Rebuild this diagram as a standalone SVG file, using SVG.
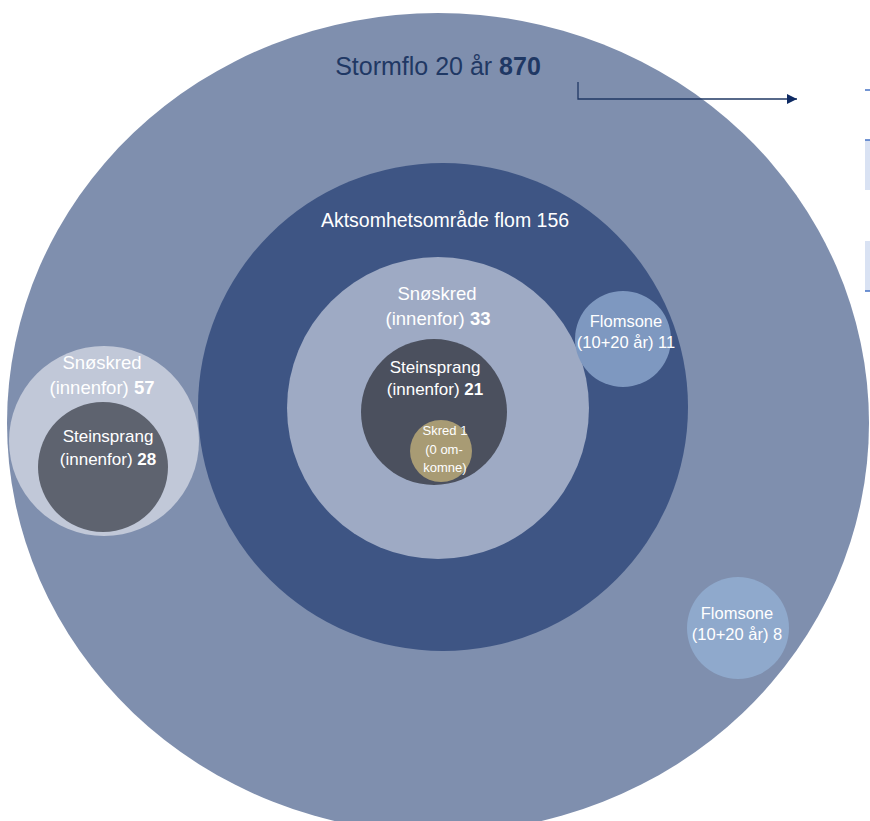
<svg xmlns="http://www.w3.org/2000/svg" width="870" height="821" viewBox="0 0 870 821">
<defs>
<style>
text{font-family:"Liberation Sans",Arial,sans-serif;text-anchor:middle;fill:#FFFFFF}
.b{font-weight:bold}
.title{fill:#1F3864;font-size:25px}
.conn{fill:none;stroke:#203864;stroke-width:1.3}
</style>
<marker id="ah" viewBox="0 0 10 10" refX="10" refY="5" markerWidth="10" markerHeight="10" markerUnits="userSpaceOnUse" orient="auto">
<path d="M0,0 L10,5 L0,10 Z" fill="#0E2A63"/>
</marker>
</defs>
<rect width="870" height="821" fill="#FFFFFF"/>
<g id="stormflo">
<ellipse cx="438" cy="423" rx="431" ry="410" fill="#7F8FAE"/>
<text class="title" x="438" y="75">Stormflo 20 år <tspan class="b">870</tspan></text>
</g>
<g id="aktsomhet">
<ellipse cx="443" cy="407" rx="245" ry="244" fill="#3E5584"/>
<text x="445" y="227" font-size="19.5">Aktsomhetsområde flom 156</text>
</g>
<g id="snoskred-indre">
<circle cx="438" cy="408" r="151" fill="#9EAAC4"/>
<text x="437" y="300" font-size="18.5">Snøskred</text>
<text x="438" y="325" font-size="18.5">(innenfor) <tspan class="b">33</tspan></text>
</g>
<g id="steinsprang-indre">
<circle cx="434" cy="412" r="73" fill="#4B505E"/>
<text x="435" y="373" font-size="17">Steinsprang</text>
<text x="435" y="395" font-size="17">(innenfor) <tspan class="b">21</tspan></text>
</g>
<g id="skred1">
<circle cx="441" cy="451" r="31" fill="#A89B74"/>
<text x="445" y="435" font-size="13">Skred 1</text>
<text x="444" y="454" font-size="13">(0 om-</text>
<text x="445" y="472" font-size="13">komne)</text>
</g>
<g id="snoskred-venstre">
<circle cx="104" cy="441" r="95" fill="#C1C8D8"/>
<text x="102" y="369" font-size="18.5">Snøskred</text>
<text x="102" y="394" font-size="18.5">(innenfor) <tspan class="b">57</tspan></text>
</g>
<g id="steinsprang-venstre">
<circle cx="103" cy="467" r="65" fill="#5E636F"/>
<text x="108" y="442" font-size="17">Steinsprang</text>
<text x="108" y="465" font-size="17">(innenfor) <tspan class="b">28</tspan></text>
</g>
<g id="flomsone-11">
<circle cx="623" cy="339" r="48" fill="#7E98C0"/>
<text x="626" y="327" font-size="16.5">Flomsone</text>
<text x="626" y="348" font-size="16.5">(10+20 år) 11</text>
</g>
<g id="flomsone-8">
<circle cx="738" cy="628" r="51" fill="#8FA9CC"/>
<text x="737" y="619" font-size="16.5">Flomsone</text>
<text x="737" y="640" font-size="16.5">(10+20 år) 8</text>
</g>
<g id="kant">
<rect x="865" y="140" width="5" height="50" fill="#D9E2F3"/>
<rect x="865" y="241" width="5" height="50" fill="#D9E2F3"/>
<line x1="865" y1="90" x2="870" y2="90" stroke="#4472C4" stroke-width="1.5"/>
<line x1="865" y1="140" x2="870" y2="140" stroke="#4472C4" stroke-width="1.5"/>
<line x1="865" y1="291" x2="870" y2="291" stroke="#4472C4" stroke-width="1.5"/>
</g>
<g id="connectors">
<path class="conn" d="M578,82 L578,99 L797,99" marker-end="url(#ah)"/>
</g>
</svg>
